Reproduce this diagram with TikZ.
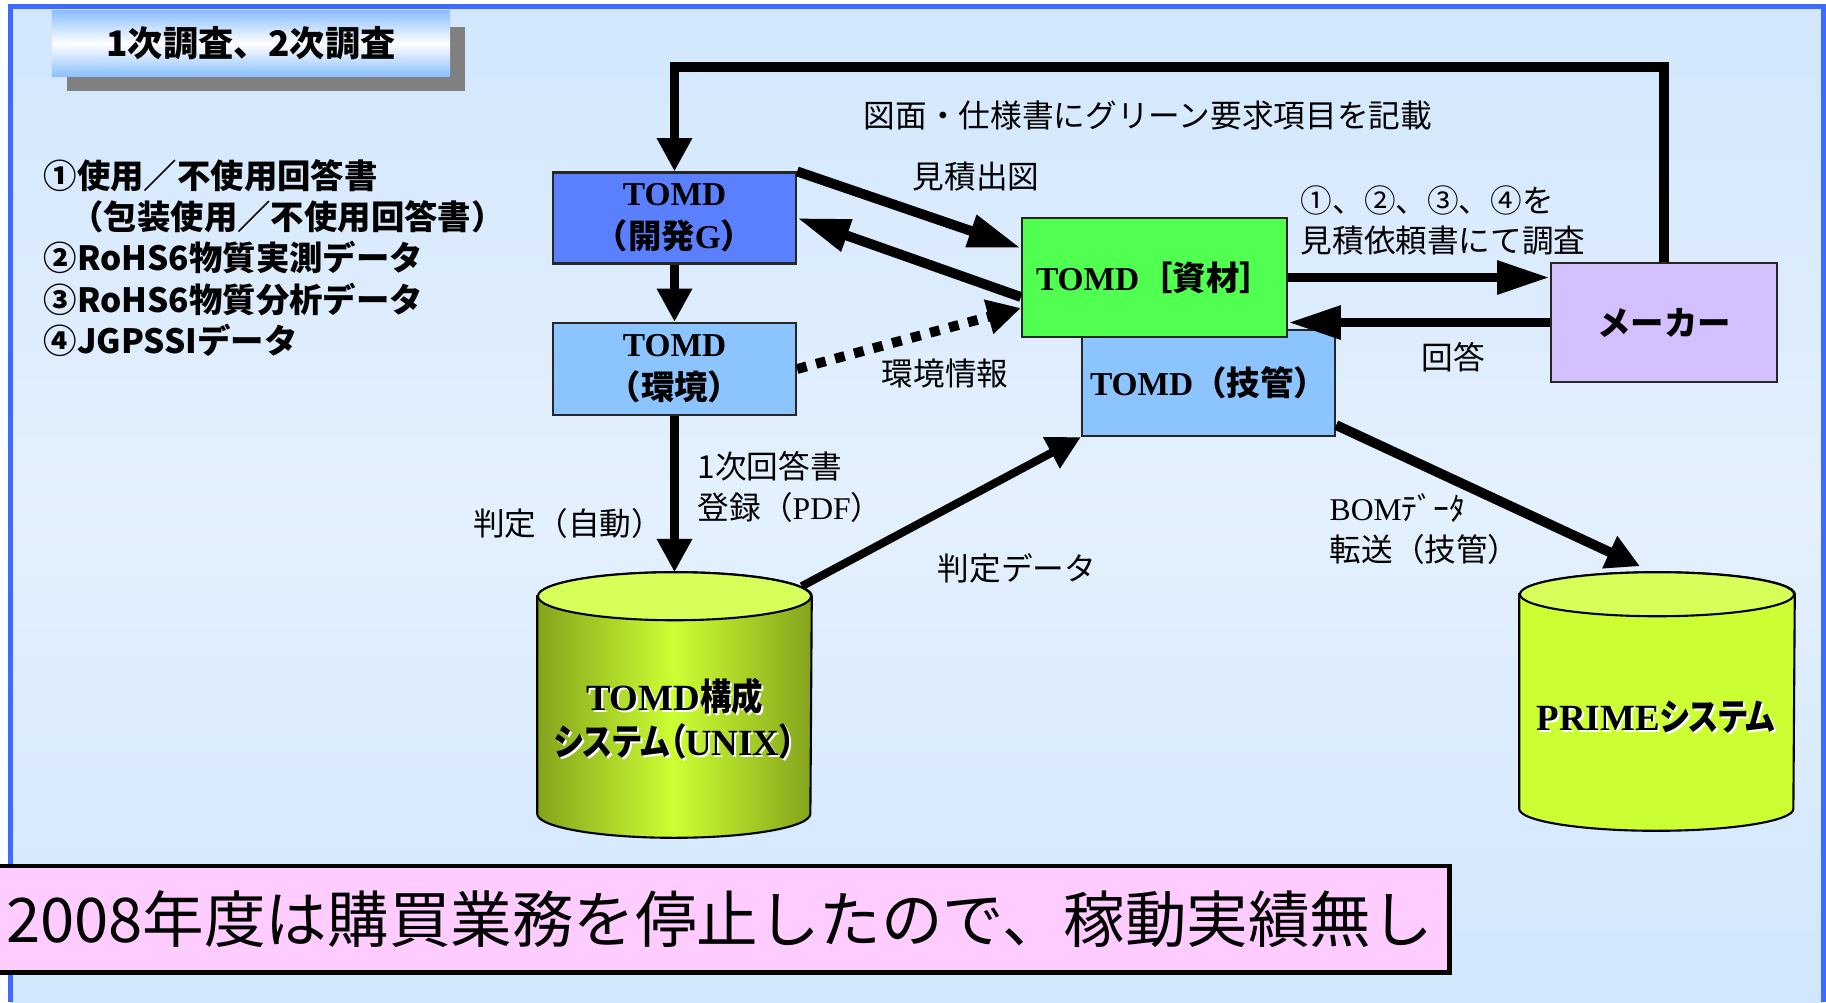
\documentclass[tikz,border=0pt]{standalone}
\usepackage{fontspec}
\setmainfont{Liberation Serif}
\newfontfamily\jp{Noto Sans CJK JP}
\newfontfamily\jpc[RawFeature=+palt,FakeStretch=0.85]{Noto Sans CJK JP}
\usetikzlibrary{arrows.meta,calc}
\definecolor{frameblue}{HTML}{3D6BFF}
\definecolor{bgtop}{HTML}{D2E7FD}
\definecolor{bgmid}{HTML}{E4F0FD}
\definecolor{devblue}{HTML}{5B80FF}
\definecolor{envblue}{HTML}{8CC4FF}
\definecolor{matgreen}{HTML}{50FF50}
\definecolor{makerlav}{HTML}{D4BFFF}
\definecolor{bannerpink}{HTML}{FFCCFF}
\definecolor{titleblue}{HTML}{8CC0FF}
\definecolor{dbtop}{HTML}{D6FF5A}
\definecolor{dbbody}{HTML}{CCFF33}
\definecolor{dbdark}{HTML}{84A41C}
\tikzstyle{box}=[draw=black!85,line width=0.6pt,inner sep=0pt,align=center,
                 font=\fontsize{9.5pt}{12.2pt}\selectfont\bfseries]
\tikzstyle{flow}=[line width=2.8pt,-{Triangle[length=15pt,width=9pt]}]
\tikzstyle{drop}=[line width=2.8pt,-{Triangle[length=9.5pt,width=9.5pt]}]
\tikzstyle{note}=[font=\fontsize{9pt}{11.6pt}\selectfont\jp,align=left,inner sep=0pt]
\tikzstyle{dbtxt}=[font=\fontsize{10.5pt}{12.8pt}\selectfont\bfseries,align=center,inner sep=0pt]
\tikzstyle{dbbox}=[inner sep=0pt,draw=none]
\tikzstyle{cyl}=[line width=0.6pt,draw=black]

\begin{document}
\begin{tikzpicture}[x=0.01cm,y=-0.01cm]
  \useasboundingbox (0,0) rectangle (1826,1002);

  % BACKGROUND & FRAME
  \fill[white] (0,0) rectangle (1826,1002);
  \fill[top color=bgtop,bottom color=bgtop,middle color=bgmid] (10,6) rectangle (1823,1002);
  \draw[frameblue,line width=1.3pt] (10.5,1002) -- (10.5,6.5) -- (1823.5,6.5) -- (1823.5,1002);

  % TITLE
  \fill[black!50] (67,27) rectangle (465,91);
  \node[draw=none,inner sep=0pt,minimum width=3.98cm,minimum height=0.65cm,
        top color=titleblue,bottom color=titleblue,middle color=white,
        font=\fontsize{10pt}{12pt}\selectfont\jp\bfseries] (ttl) at (251,43.5) {1次調査、2次調査};

  % SURVEY ITEMS
  \node[anchor=north west,align=left,inner sep=0pt,
        font=\fontsize{9.5pt}{11.7pt}\selectfont\jp\bfseries] (items) at (43,159)
    {①使用／不使用回答書\\\hspace*{0.8em}（包装使用／不使用回答書）\\②RoHS6物質実測データ\\③RoHS6物質分析データ\\④JGPSSIデータ};

  % BOXES
  \node[box,fill=devblue,minimum width=2.43cm,minimum height=0.91cm] (dev) at (674.5,218) {TOMD\\{\jp （開発}G{\jp ）}};
  \node[box,fill=envblue,minimum width=2.43cm,minimum height=0.92cm] (env) at (674.5,369) {TOMD\\{\jp （環境）}};
  \node[box,fill=envblue,minimum width=2.53cm,minimum height=1.06cm] (tech) at (1208.5,383) {TOMD{\jp （技管）}};
  \node[box,fill=matgreen,minimum width=2.65cm,minimum height=1.19cm] (mat) at (1154.5,277.5) {TOMD{\jp ［資材］}};
  \node[box,fill=makerlav,minimum width=2.26cm,minimum height=1.19cm] (maker) at (1664,322.5) {{\jp メーカー}};

  % DATABASES
  \node[dbbox,minimum width=2.73cm,minimum height=2.64cm] (unix) at (674.5,705) {};
  \draw[cyl,left color=dbdark,right color=dbdark,middle color=dbbody]
    ($(unix.north west)+(0,24)$) -- ($(unix.south west)+(0,-24)$)
    arc[start angle=180,end angle=360,x radius=1.365cm,y radius=0.24cm]
    -- ($(unix.north east)+(0,24)$)
    arc[start angle=0,end angle=180,x radius=1.365cm,y radius=0.24cm] -- cycle;
  \draw[cyl,fill=dbtop] ($(unix.north)+(0,24)$) ellipse[x radius=1.365cm,y radius=0.24cm];
  \node[dbtxt,white] (unixsh) at (676.5,721) {TOMD{\jpc 構成}\\{\jpc システム（}UNIX{\jpc ）}};
  \node[dbtxt] (unixtxt) at (674.5,719) {TOMD{\jpc 構成}\\{\jpc システム（}UNIX{\jpc ）}};

  \node[dbbox,minimum width=2.74cm,minimum height=2.57cm] (prime) at (1657,701.5) {};
  \draw[cyl,fill=dbbody]
    ($(prime.north west)+(0,22)$) -- ($(prime.south west)+(0,-22)$)
    arc[start angle=180,end angle=360,x radius=1.37cm,y radius=0.22cm]
    -- ($(prime.north east)+(0,22)$)
    arc[start angle=0,end angle=180,x radius=1.37cm,y radius=0.22cm] -- cycle;
  \draw[cyl,fill=dbtop] ($(prime.north)+(0,22)$) ellipse[x radius=1.37cm,y radius=0.22cm];
  \node[dbtxt,white] (primesh) at (1658,719) {PRIME{\jpc システム}};
  \node[dbtxt] (primetxt) at (1656,717) {PRIME{\jpc システム}};

  % ARROWS
  \draw[drop] (maker.north) -- ++(0,-195) -| (dev.north);
  \draw[flow] (dev.north east) -- ($(mat.west)+(0,-29.5)$);
  \draw[flow] ($(mat.west)+(0,19.5)$) -- (dev.east);
  \draw[drop] (dev.south) -- (env.north);
  \draw[drop,dash pattern=on 2.8pt off 2.8pt] (env.east) -- ($(mat.west)+(0,30.5)$);
  \draw[drop] (env.south) -- (unix.north);
  \draw[drop,line width=2.3pt] ($(unix.north east)+(-10,14)$) -- (tech.south west);
  \draw[flow] (mat.east) -- (mat.east -| maker.west);
  \draw[flow] (maker.west) -- (maker.west -| mat.east);
  \draw[drop] ($(tech.south east)+(0,-12)$) -- ($(prime.north)+(-17,-6)$);

  % LABELS
  \node[note] (drawlbl) at (1148,115) {図面・仕様書にグリーン要求項目を記載};
  \node[note] (estlbl) at (976,177) {見積出図};
  \node[note] (envlbl) at (945,373) {環境情報};
  \node[note,anchor=west] (reglbl) at (697,487) {1次回答書\\登録（{\rmfamily PDF}）};
  \node[note] (autolbl) at (568,523) {判定（自動）};
  \node[note] (judglbl) at (1017,568) {判定データ};
  \node[note,anchor=west] (reqlbl) at (1300,220.5) {①、②、③、④を\\見積依頼書にて調査};
  \node[note] (anslbl) at (1453,357) {回答};
  \node[note,anchor=west] (bomlbl) at (1329,529) {{\rmfamily BOM}ﾃﾞｰﾀ\\転送（技管）};

  % BANNER
  \node[draw=black,line width=1.4pt,fill=bannerpink,inner sep=0pt,
        minimum width=14.59cm,minimum height=1.06cm,
        font=\fontsize{17.5pt}{20pt}\selectfont\jp] (banner) at (719.5,919)
    {2008年度は購買業務を停止したので、稼動実績無し};
\end{tikzpicture}
\end{document}
